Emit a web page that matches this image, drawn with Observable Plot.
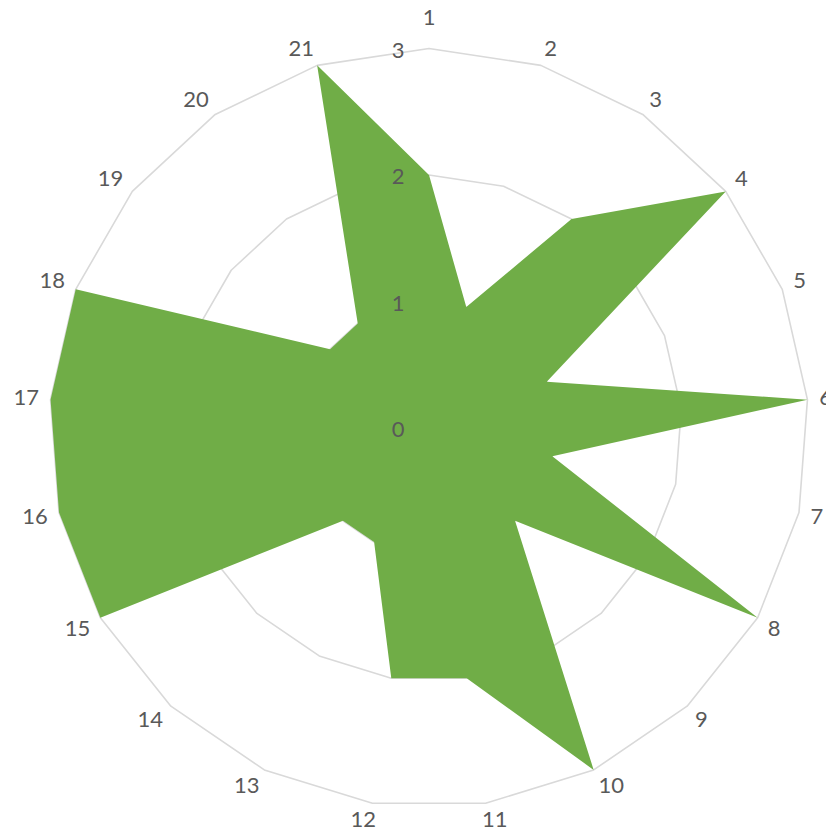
<!DOCTYPE html>
<html>
<head>
<meta charset="utf-8">
<script src="https://cdn.jsdelivr.net/npm/d3@7"></script>
<script src="https://cdn.jsdelivr.net/npm/@observablehq/plot@0.6"></script>
<style>
  html, body { margin: 0; padding: 0; background: #fff; }
  #chart svg { display: block; }
</style>
</head>
<body>
<div id="chart"></div>
<script>
const categories = ["1","2","3","4","5","6","7","8","9","10","11","12","13","14","15","16","17","18","19","20","21"];
const values = [2,1,2,3,1,3,1,3,1,3,2,2,1,1,3,3,3,3,1,1,3];
const ringTicks = [0,1,2,3];
const ringLabels = ["0","1","2","3"];

const W = 826, H = 830;
const cx = 428.5, cy = 427.5, unit = 126.5;
const n = categories.length;
const ang = i => 2 * Math.PI * i / n;
const maxV = d3.max(ringTicks);

// closed polygon for the series
const series = values.concat([values[0]]).map((v, k) => {
  const i = k % n;
  return {x: v * Math.sin(ang(i)), y: v * Math.cos(ang(i))};
});

// grid rings
const rings = [];
ringTicks.filter(t => t > 0).forEach(t => {
  for (let k = 0; k <= n; k++) {
    const i = k % n;
    rings.push({ring: t, x: t * Math.sin(ang(i)), y: t * Math.cos(ang(i))});
  }
});

// category labels, placed outside the outer ring (offsets in px converted to data units)
const labels = categories.map((c, i) => {
  const a = ang(i), s = Math.sin(a), co = Math.cos(a);
  const hw = 6.2 * c.length, hh = 5, g = 12;
  let ox = g * s + Math.sign(s) * hw * Math.min(1, Math.abs(s) * 4);
  let oy = g * co + Math.sign(co) * hh * Math.min(1, Math.abs(co) * 2);
  if (i === 0) oy += 14;
  return {label: c, x: maxV * s + ox / unit, y: maxV * co + oy / unit};
});

const tickLabels = ringTicks.map((t, i) => ({label: ringLabels[i], x: -31 / unit, y: t - 2 / unit}));

const chart = Plot.plot({
  width: W,
  height: H,
  margin: 0,
  x: {domain: [-cx / unit, (W - cx) / unit], axis: null},
  y: {domain: [-(H - cy) / unit, cy / unit], axis: null},
  style: {fontFamily: "Lato, 'Open Sans', sans-serif", background: "#fff"},
  marks: [
    Plot.line(rings, {x: "x", y: "y", z: "ring", stroke: "#d9d9d9", strokeWidth: 1.6, curve: "linear"}),
    Plot.line(series, {x: "x", y: "y", fill: "#70ad47", stroke: "none", curve: "linear"}),
    Plot.text(tickLabels, {x: "x", y: "y", text: "label", fill: "#595959", fontSize: 22, textAnchor: "middle", lineAnchor: "middle"}),
    Plot.text(labels, {x: "x", y: "y", text: "label", fill: "#595959", fontSize: 22, textAnchor: "middle", lineAnchor: "middle"})
  ]
});
document.getElementById("chart").appendChild(chart);
</script>
</body>
</html>
